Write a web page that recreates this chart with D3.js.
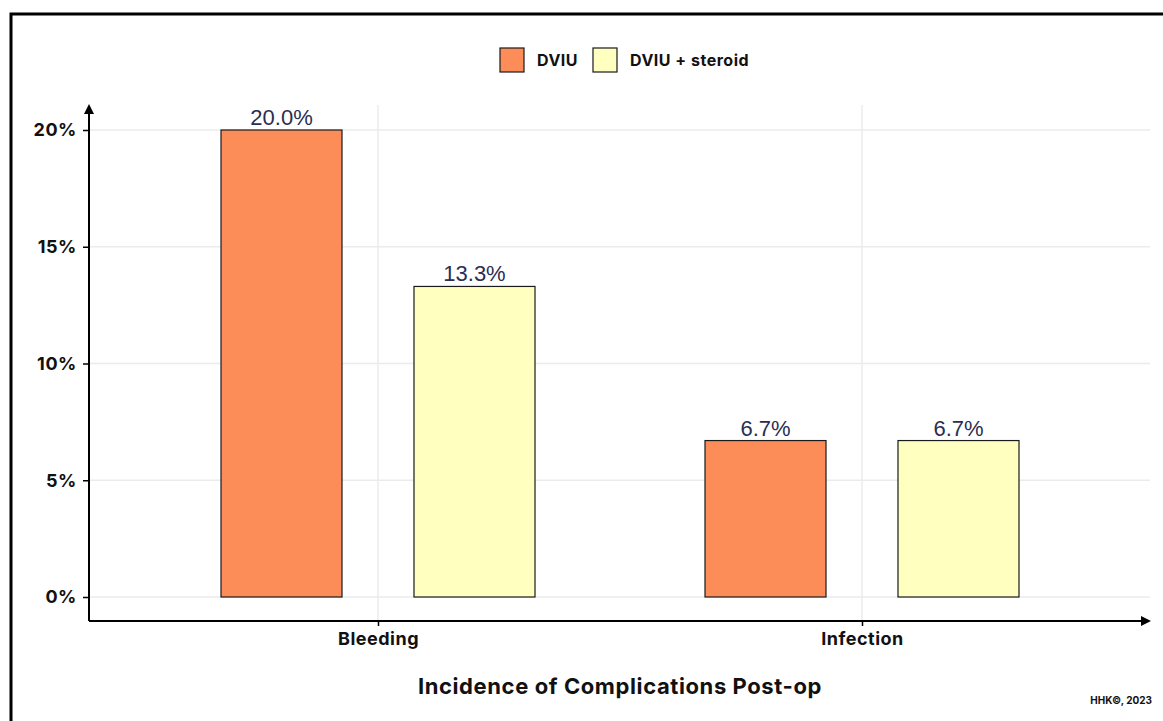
<!DOCTYPE html>
<html>
<head>
<meta charset="utf-8">
<script src="https://cdn.jsdelivr.net/npm/d3@7"></script>
<style>
  html, body { margin: 0; padding: 0; background: #fff; }
  svg { display: block; }
  text { font-family: Inter, "Liberation Sans", sans-serif; }
</style>
</head>
<body>
<svg id="chart" width="1163" height="721"></svg>
<script>
// Complication incidence by treatment group
const categories = ["Bleeding", "Infection"];
const seriesNames = ["DVIU", "DVIU + steroid"];
const dviu = [0.200, 0.067];
const dviuSteroid = [0.133, 0.067];
const yTicks = [0, 0.05, 0.10, 0.15, 0.20];
const seriesColors = ["#fc8d59", "#ffffbf"];

const seriesValues = [dviu, dviuSteroid];
const rows = categories.map((c, i) => ({
  category: c,
  values: seriesNames.map((s, j) => ({ series: s, value: seriesValues[j][i], color: seriesColors[j] }))
}));

const svg = d3.select("#chart");

// Outer frame
svg.append("rect")
  .attr("x", 11).attr("y", 14)
  .attr("width", 1170).attr("height", 720)
  .attr("fill", "none").attr("stroke", "#000").attr("stroke-width", 3);

const axisX = 89, axisY = 621, plotTop = 105, plotRight = 1150;

const y = d3.scaleLinear().domain([0, 0.20]).range([597, 130]);
const x = d3.scalePoint().domain(categories).range([136, 1104]).padding(0.5);
const xs = d3.scaleBand().domain(seriesNames).range([-157, 157]).paddingInner(0.373).paddingOuter(0);

// Grid
const grid = svg.append("g");
grid.selectAll("line.h").data(yTicks).join("line")
  .attr("x1", axisX).attr("x2", plotRight)
  .attr("y1", d => y(d)).attr("y2", d => y(d))
  .attr("stroke", "#ebebeb").attr("stroke-width", 1.5);
grid.selectAll("line.v").data(categories).join("line")
  .attr("x1", d => x(d)).attr("x2", d => x(d))
  .attr("y1", plotTop).attr("y2", axisY)
  .attr("stroke", "#ebebeb").attr("stroke-width", 1.5);

// Bars
const groups = svg.append("g").selectAll("g").data(rows).join("g")
  .attr("transform", d => `translate(${x(d.category)},0)`);
groups.selectAll("rect").data(d => d.values).join("rect")
  .attr("x", d => xs(d.series))
  .attr("width", xs.bandwidth())
  .attr("y", d => y(d.value))
  .attr("height", d => y(0) - y(d.value))
  .attr("fill", d => d.color)
  .attr("stroke", "#1a1a1a").attr("stroke-width", 1.2);
groups.selectAll("text").data(d => d.values).join("text")
  .attr("x", d => xs(d.series) + xs.bandwidth() / 2)
  .attr("y", d => y(d.value) - 5)
  .attr("text-anchor", "middle")
  .style("font-family", "'Liberation Sans', Arial, sans-serif")
  .style("font-size", "22px")
  .attr("fill", "#2a2e52")
  .text(d => (d.value * 100).toFixed(1) + "%");

// Arrowhead marker
svg.append("defs").append("marker")
  .attr("id", "arrow").attr("viewBox", "0 0 10 10")
  .attr("refX", 5).attr("refY", 5)
  .attr("markerWidth", 5).attr("markerHeight", 5)
  .attr("orient", "auto")
  .append("path").attr("d", "M0,0 L10,5 L0,10 Z").attr("fill", "#000");

// Y axis
const yAxis = svg.append("g").attr("transform", `translate(${axisX},0)`)
  .call(d3.axisLeft(y).tickValues(yTicks).tickFormat(d3.format(".0%")).tickSize(6).tickPadding(6));
yAxis.select(".domain").remove();
yAxis.selectAll(".tick line").attr("stroke", "#000").attr("stroke-width", 1.5);
yAxis.selectAll(".tick text")
  .style("font-size", "18px").style("font-weight", "700")
  .style("letter-spacing", "0.6px").attr("fill", "#111");
svg.append("line")
  .attr("x1", axisX).attr("x2", axisX).attr("y1", axisY).attr("y2", plotTop + 4)
  .attr("stroke", "#000").attr("stroke-width", 2).attr("marker-end", "url(#arrow)");

// X axis
const xAxis = svg.append("g").attr("transform", `translate(0,${axisY})`)
  .call(d3.axisBottom(x).tickSize(5).tickPadding(6));
xAxis.select(".domain").remove();
xAxis.selectAll(".tick line").attr("stroke", "#000").attr("stroke-width", 1.5);
xAxis.selectAll(".tick text")
  .style("font-size", "18px").style("font-weight", "700")
  .style("letter-spacing", "0.5px").attr("fill", "#111");
svg.append("line")
  .attr("x1", axisX).attr("x2", plotRight - 4).attr("y1", axisY).attr("y2", axisY)
  .attr("stroke", "#000").attr("stroke-width", 2).attr("marker-end", "url(#arrow)");

// Axis title
svg.append("text")
  .attr("x", 620).attr("y", 694)
  .attr("text-anchor", "middle")
  .style("font-size", "22px").style("font-weight", "700")
  .style("letter-spacing", "0.6px").attr("fill", "#111")
  .text("Incidence of Complications Post-op");

// Legend
const legend = svg.append("g").attr("transform", "translate(500,48)");
const legendX = [0, 93];
seriesNames.forEach((s, i) => {
  const g = legend.append("g").attr("transform", `translate(${legendX[i]},0)`);
  g.append("rect").attr("width", 24).attr("height", 24)
    .attr("fill", seriesColors[i]).attr("stroke", "#1a1a1a").attr("stroke-width", 1.2);
  g.append("text").attr("x", 37).attr("y", 18)
    .style("font-size", "16px").style("font-weight", "700")
    .style("letter-spacing", "0.5px").attr("fill", "#111")
    .text(s);
});

// Credit
svg.append("text")
  .attr("x", 1152).attr("y", 704)
  .attr("text-anchor", "end")
  .style("font-size", "10px").style("font-weight", "700").attr("fill", "#111")
  .text("HHK©, 2023");
</script>
</body>
</html>
